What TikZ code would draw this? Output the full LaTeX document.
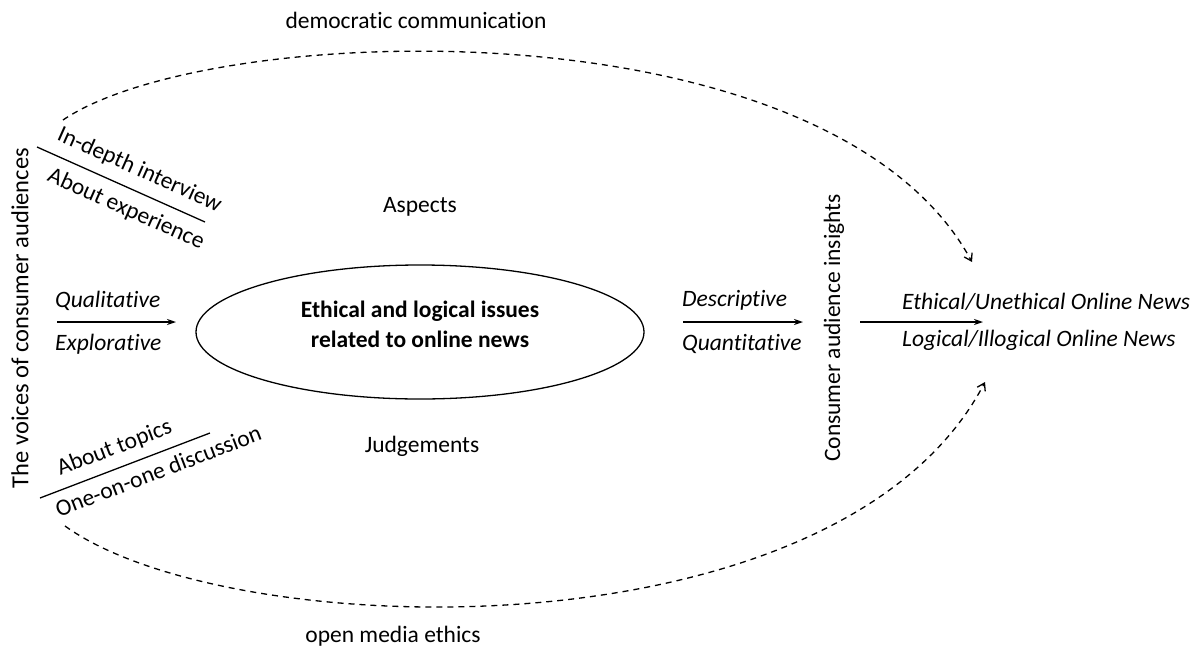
\documentclass[tikz,border=0pt]{standalone}
\usepackage{fontspec}
\setmainfont{Carlito}[Ligatures=NoCommon]
\usetikzlibrary{arrows.meta}
\begin{document}
\begin{tikzpicture}[x=1pt,y=-1pt,
  lbl/.style={inner sep=1pt,font=\fontsize{23.5}{28}\selectfont},
  ilbl/.style={lbl,font=\fontsize{23.5}{28}\selectfont\itshape},
  slant/.style={lbl,sloped},
  flow/.style={line width=1.3pt,-{Stealth[length=9pt,width=6pt]}},
  link/.style={line width=1.3pt,dash pattern=on 6pt off 5pt,-{Straight Barb[length=7pt,width=9pt]}},
  bar/.style={line width=1.3pt}]
\useasboundingbox (0,0) rectangle (1199,651);

% central issue
\draw[line width=1.3pt] (420,332) ellipse [x radius=224, y radius=67];
\node[lbl,font=\fontsize{23.5}{28}\selectfont\bfseries,align=center] (core) at (420,324)
  {Ethical and logical issues\\[2pt]related to online news};
\node[lbl] (aspects) at (420,207) {Aspects};
\node[lbl] (judge) at (422,446) {Judgements};

% left side: the voices of consumer audiences
\node[lbl,rotate=90,font=\fontsize{24.5}{29}\selectfont] (voices) at (20,318) {The voices of consumer audiences};
\coordinate (qa) at (57,322);
\coordinate (qb) at (176,322);
\draw[flow] (qa) -- (qb);
\node[ilbl,anchor=west] (qual) at (54,301) {Qualitative};
\node[ilbl,anchor=west] (expl) at (54,344) {Explorative};

\coordinate (ia) at (37,147);
\coordinate (ib) at (205,222);
\draw[bar] (ia) -- node[slant,above=9pt,pos=0.56] (interview) {In-depth interview}
                   node[slant,below=9pt,pos=0.58] (experience) {About experience} (ib);

\coordinate (da) at (40,498);
\coordinate (db) at (210,433);
\draw[bar] (da) -- node[slant,above=8pt,pos=0.48] (topics) {About topics}
                   node[slant,below=7pt,pos=0.66] (discussion) {One-on-one discussion} (db);

% middle: consumer audience insights
\coordinate (ma) at (683,322);
\coordinate (mb) at (803,322);
\draw[flow] (ma) -- (mb);
\node[ilbl,anchor=west] (desc) at (681,300) {Descriptive};
\node[ilbl,anchor=west] (quant) at (681,344) {Quantitative};
\node[lbl,rotate=90] (insights) at (834,328) {Consumer audience insights};

% right: outcome
\coordinate (ra) at (860,322);
\coordinate (rb) at (983,322);
\draw[flow] (ra) -- (rb);
\node[ilbl,anchor=west] (ethical) at (901,302) {Ethical/Unethical Online News};
\node[ilbl,anchor=west] (logical) at (901,340) {Logical/Illogical Online News};

% dashed links
\coordinate (ts) at (63,120);
\coordinate (te) at (972,262);
\draw[link] (ts) .. controls (210,20) and (830,0) .. (te);
\node[lbl] (democ) at (416,20) {democratic communication};

\coordinate (bs) at (65,526);
\coordinate (be) at (985,382);
\draw[link] (bs) .. controls (230,645) and (840,660) .. (be);
\node[lbl] (ethics) at (393,636) {open media ethics};
\end{tikzpicture}
\end{document}
